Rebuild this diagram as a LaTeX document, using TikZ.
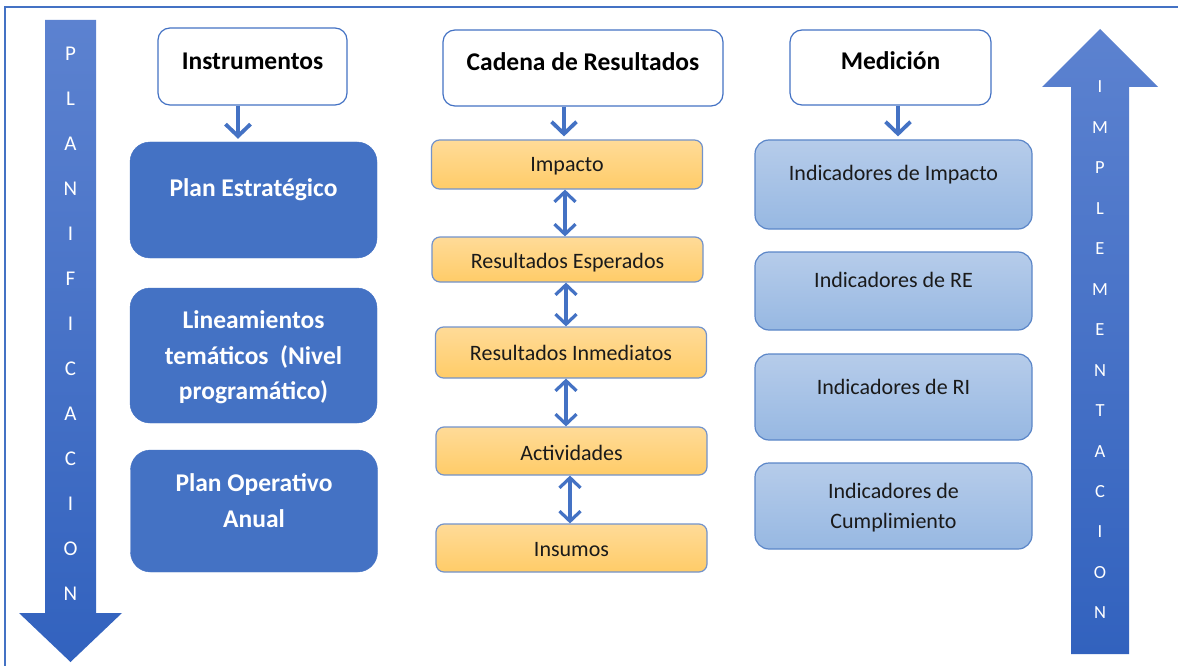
\documentclass[tikz,border=0pt]{standalone}
\usepackage{fontspec}
\setmainfont{Carlito}
\usetikzlibrary{arrows.meta,calc}
\definecolor{frame}{HTML}{4472C4}
\definecolor{boxblue}{HTML}{4472C4}
\definecolor{orTop}{HTML}{FFDB98}
\definecolor{orBot}{HTML}{FFCC68}
\definecolor{orLine}{HTML}{7393CB}
\definecolor{ltTop}{HTML}{B6CCEA}
\definecolor{ltBot}{HTML}{97B8E2}
\definecolor{ltLine}{HTML}{5B86C8}
\definecolor{arTop}{HTML}{5C82D0}
\definecolor{arBot}{HTML}{3262BE}
\definecolor{txt}{HTML}{1A1A1A}
\begin{document}
\begin{tikzpicture}[x=1pt,y=-1pt,
  hdr/.style={draw=frame, line width=1.2pt, fill=white, rounded corners=12pt, inner sep=0},
  bluebox/.style={fill=boxblue, draw=boxblue, rounded corners=20pt, minimum width=247pt, inner sep=0},
  orbox/.style={draw=orLine, line width=1.2pt, top color=orTop, bottom color=orBot, rounded corners=8pt, minimum width=271pt, inner sep=0},
  ltbox/.style={draw=ltLine, line width=1.2pt, top color=ltTop, bottom color=ltBot, rounded corners=14pt, minimum width=277pt, inner sep=0},
  hdrtxt/.style={font=\bfseries\fontsize{25.5}{28}\selectfont, text=black, inner sep=0},
  wtxt/.style={font=\bfseries\fontsize{25.5}{35.5}\selectfont, text=white, align=center, inner sep=0},
  ortxt/.style={font=\fontsize{22}{24}\selectfont, text=txt, inner sep=0},
  lttxt/.style={font=\fontsize{22}{30}\selectfont, text=txt, align=center, inner sep=0},
  arr/.style={draw=frame, line width=3.8pt, shorten >=3pt, -{Straight Barb[length=12pt,width=25pt]}},
  darr/.style={draw=frame, line width=3.2pt, {Straight Barb[length=10pt,width=21pt]}-{Straight Barb[length=10pt,width=21pt]}},
  letter/.style={text=white, inner sep=0}
]
\useasboundingbox (0,0) rectangle (1178,666);
\fill[white] (0,0) rectangle (1178,666);
% frame
\draw[frame, line width=2pt] (5,666) -- (5,7) -- (1178,7);

% big arrows
\shade[top color=arTop, bottom color=arBot] (45,20) -- (96,20) -- (96,613) -- (122,613) -- (70.5,662) -- (19,613) -- (45,613) -- cycle;
\shade[top color=arTop, bottom color=arBot] (1071,654) -- (1071,87) -- (1042,87) -- (1100,29) -- (1158,87) -- (1129,87) -- (1129,654) -- cycle;
\foreach \l [count=\i] in {P,L,A,N,I,F,I,C,A,C,I,O,N}
  \node[letter, font=\fontsize{21}{22}\selectfont] (pl\i) at (70.5,{54+45*(\i-1)}) {\l};
\foreach \l [count=\i] in {I,M,P,L,E,M,E,N,T,A,C,I,O,N}
  \node[letter, font=\fontsize{18.5}{20}\selectfont] (im\i) at (1100,{87+40.46*(\i-1)}) {\l};

% headers
\node[hdr, minimum width=189pt, minimum height=77pt] (inst) at (252.5,66.5) {};
\node[hdrtxt] (instT) at (252.5,61) {Instrumentos};
\node[hdr, minimum width=280pt, minimum height=76pt] (cad) at (583,68) {};
\node[hdrtxt] (cadT) at (583,62) {Cadena de Resultados};
\node[hdr, minimum width=201pt, minimum height=75pt] (med) at (890.5,67.5) {};
\node[hdrtxt] (medT) at (890.5,61) {Medición};

% left boxes
\node[bluebox, minimum height=116pt] (ps) at (253.5,200) {};
\node[wtxt] (psT) at (253.5,190) {Plan Estratégico};
\node[bluebox, minimum height=135pt] (lt) at (253.5,355.5) {};
\node[wtxt] (ltT) at (253.5,357.5) {Lineamientos\\temáticos\ \ (Nivel\\programático)};
\node[bluebox, minimum height=122pt] (po) at (254,511) {};
\node[wtxt] (poT) at (254,500.5) {Plan Operativo\\Anual};

% orange boxes
\node[orbox, minimum height=49pt] (imp) at (567,164.5) {};
\node[ortxt] (impT) at (567,166) {Impacto};
\node[orbox, minimum height=45pt] (re) at (567.5,259.5) {};
\node[ortxt] (reT) at (567.5,263) {Resultados Esperados};
\node[orbox, minimum height=51pt] (ri) at (571,352.5) {};
\node[ortxt] (riT) at (571,353) {Resultados Inmediatos};
\node[orbox, minimum height=48pt] (act) at (571.5,451) {};
\node[ortxt] (actT) at (571.5,453) {Actividades};
\node[orbox, minimum height=48pt] (ins) at (571.5,548) {};
\node[ortxt] (insT) at (571.5,550) {Insumos};

% right boxes
\node[ltbox, minimum height=89pt] (iimp) at (893.5,184.5) {};
\node[lttxt] (iimpT) at (893.5,175) {Indicadores de Impacto};
\node[ltbox, minimum height=78pt] (ire) at (893.5,291) {};
\node[lttxt] (ireT) at (893.5,280) {Indicadores de RE};
\node[ltbox, minimum height=86pt] (iri) at (893.5,397) {};
\node[lttxt] (iriT) at (893.5,387) {Indicadores de RI};
\node[ltbox, minimum height=86pt] (icu) at (893.5,506) {};
\node[lttxt] (icuT) at (893.5,508) {Indicadores de\\Cumplimiento};

% header arrows
\draw[arr] ([xshift=-14.5pt]inst.south) -- ([xshift=-14.5pt]inst.south |- ps.north);
\draw[arr] ([xshift=-19pt]cad.south) -- ([xshift=-19pt]cad.south |- imp.north);
\draw[arr] ([xshift=7.5pt]med.south) -- ([xshift=7.5pt]med.south |- iimp.north);

% double arrows
\draw[darr] ([xshift=-2pt]imp.south) -- ([xshift=-2pt]imp.south |- re.north);
\draw[darr] ([xshift=-1.5pt]re.south) -- ([xshift=-1.5pt]re.south |- ri.north);
\draw[darr] ([xshift=-5pt]ri.south) -- ([xshift=-5pt]ri.south |- act.north);
\draw[darr] ([xshift=-1.5pt]act.south) -- ([xshift=-1.5pt]act.south |- ins.north);
\end{tikzpicture}
\end{document}
